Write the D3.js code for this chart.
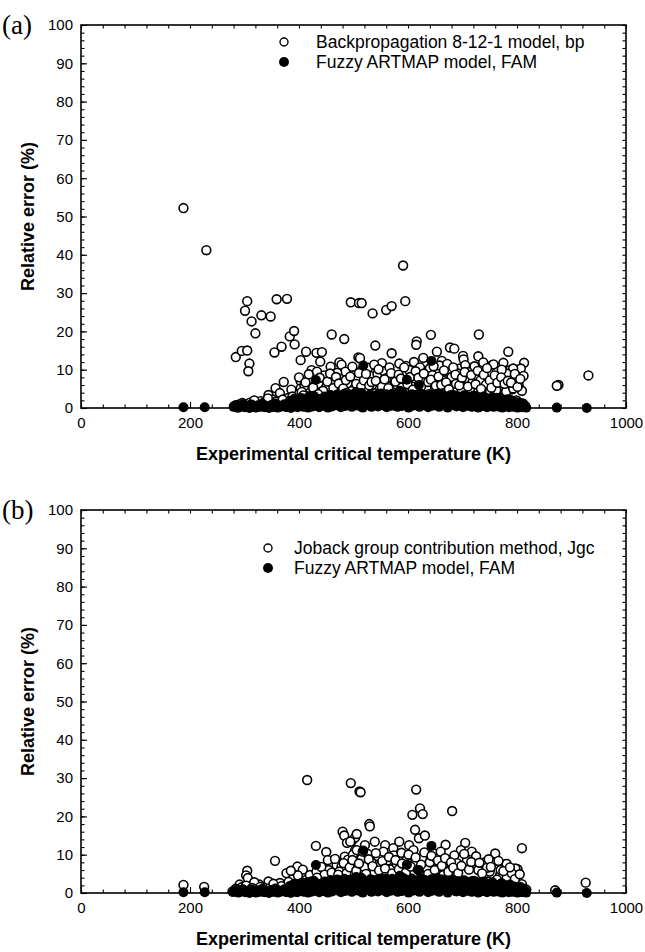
<!DOCTYPE html>
<html><head><meta charset="utf-8">
<script src="https://cdn.jsdelivr.net/npm/d3@7"></script>
<style>body{margin:0;background:#fff}</style>
</head><body>
<svg id="c" width="645" height="952"></svg>
<script>
// ---------------- data ----------------
const xTickLabels = [0, 200, 400, 600, 800, 1000];
const yTickLabels = [0, 10, 20, 30, 40, 50, 60, 70, 80, 90, 100];
const xMinorTicks = d3.range(0, 1001, 40);
const yMinorTicks = d3.range(0, 101, 2);

const seriesNames = {
  bp: "Backpropagation 8-12-1 model, bp",
  jgc: "Joback group contribution method, Jgc",
  fam: "Fuzzy ARTMAP model, FAM"
};

// Fuzzy ARTMAP model (shared by both panels): [Tc (K), relative error (%)]
const famPoints = [
  [188,0.2],[227,0.2],[431,7.3],[518,11.1],[643,12.3],[598,7.4],[620,6.0],[873,0.1],[928,0.0],
  [470,3.5],[505,4.2],[540,2.8],[560,3.6],[585,4.5],[610,3.0],[655,3.8],[690,2.5],[720,3.2],[760,2.0],
  [280,0.3],[285,0.8],[289,0.1],[293,0.5],[297,1.0],[301,0.2],[305,0.6],[309,0.0],[313,0.9],[317,0.4],
  [321,0.1],[325,0.7],[329,0.3],[333,1.1],[337,0.2],[341,0.5],[345,0.0],[349,0.8],[353,0.3],[357,1.2],
  [361,0.1],[365,0.6],[369,0.4],[373,1.0],[377,0.2],[381,0.7],[385,0.0],[389,1.3],[393,0.5],[397,0.2],
  [401,0.9],[405,1.6],[409,0.3],[413,0.7],[417,0.1],[421,1.2],[425,0.4],[429,2.0],[433,0.8],[437,0.2],
  [441,1.5],[445,0.6],[449,2.3],[453,0.1],[457,1.0],[461,0.4],[465,1.8],[469,0.7],[473,2.6],[477,0.2],
  [481,1.3],[485,0.5],[489,2.1],[493,0.9],[497,0.3],[501,1.6],[505,2.8],[509,0.6],[513,1.2],[517,0.1],
  [521,2.2],[525,0.8],[529,1.5],[533,0.3],[537,2.5],[541,1.0],[545,0.4],[549,1.9],[553,0.7],[557,2.9],
  [561,0.2],[565,1.4],[569,0.6],[573,2.3],[577,1.1],[581,0.3],[585,1.7],[589,0.5],[593,2.6],[597,0.9],
  [601,0.1],[605,1.8],[609,0.6],[613,2.4],[617,1.2],[621,0.3],[625,1.6],[629,0.8],[633,2.1],[637,0.2],
  [641,1.4],[645,0.6],[649,2.7],[653,1.0],[657,0.3],[661,1.9],[665,0.7],[669,1.3],[673,0.1],[677,2.2],
  [681,0.8],[685,1.5],[689,0.4],[693,2.0],[697,0.9],[701,0.2],[705,1.6],[709,0.6],[713,1.2],[717,0.3],
  [721,1.8],[725,0.7],[729,0.1],[733,1.4],[737,0.5],[741,1.0],[745,0.2],[749,1.5],[753,0.6],[757,0.3],
  [761,1.1],[765,0.4],[769,0.8],[773,0.1],[777,1.2],[781,0.5],[785,0.2],[789,0.9],[793,0.3],[797,0.6],
  [801,0.1],[805,0.7],[809,0.2],[813,0.4],[817,0.1],
  [383,1.8],[391,2.4],[398,1.6],[404,2.6],[411,1.9],[418,2.9],[423,2.1],[427,3.2],[435,2.4],[440,1.7],
  [447,3.0],[451,2.0],[458,3.4],[463,2.5],[467,1.6],[475,3.1],[479,2.3],[483,3.7],[487,1.5],[491,2.9],
  [495,3.5],[499,2.2],[503,1.4],[507,3.3],[511,2.6],[515,3.9],[519,1.8],[523,3.0],[527,2.4],[531,3.6],
  [535,1.6],[539,2.9],[543,3.4],[547,2.1],[551,3.8],[555,1.7],[559,2.6],[563,3.3],[567,2.0],[571,3.7],
  [575,2.5],[579,1.6],[583,3.1],[587,2.2],[591,3.9],[595,1.5],[599,3.0],[603,2.4],[607,3.6],[611,1.8],
  [615,3.2],[619,2.5],[623,3.8],[627,2.1],[631,3.4],[635,1.6],[639,2.9],[643,3.6],[647,2.0],[651,3.3],
  [655,1.7],[659,2.8],[663,3.5],[667,2.2],[671,3.0],[675,1.6],[679,2.6],[683,3.4],[687,2.1],[691,3.1],
  [695,1.5],[699,2.7],[703,3.3],[707,2.0],[711,2.9],[715,1.6],[719,2.4],[723,3.1],[727,1.8],[731,2.6],
  [735,2.0],[739,3.0],[743,1.5],[747,2.4],[751,1.9],[755,2.8],[759,1.4],[763,2.1],[767,1.6],[771,2.5],
  [775,1.3],[779,2.0],[783,1.5],[787,2.2],[791,1.2],[795,1.7],[799,1.0],[803,1.5],[807,0.9],[811,1.2],[815,0.6]
];

// Backpropagation 8-12-1 model (panel a)
const bpPoints = [
  [188,52.2],[230,41.2],[305,27.9],[301,25.4],[313,22.6],[320,19.5],[331,24.2],[348,23.9],[359,28.4],[378,28.5],
  [284,13.3],[295,14.9],[305,15.0],[309,11.6],[307,9.6],[355,14.5],[368,16.0],[383,18.7],[391,20.1],[392,16.6],
  [403,12.5],[413,14.7],[423,9.9],[432,14.4],[442,14.6],[439,12.1],[460,19.2],[483,18.0],[458,10.8],[474,11.9],
  [478,11.3],[480,8.8],[495,27.6],[510,27.4],[509,13.2],[372,6.8],[357,5.2],[344,3.4],[310,1.4],[403,7.0],
  [403,5.1],[591,37.2],[515,27.4],[535,24.7],[560,25.6],[570,26.6],[595,27.9],[642,19.1],[616,17.4],[615,16.5],
  [730,19.2],[540,16.3],[570,14.3],[677,15.8],[685,15.5],[653,14.7],[701,13.6],[702,12.7],[729,13.5],[784,14.7],
  [628,13.1],[754,11.2],[757,11.4],[775,11.8],[813,11.8],[807,10.3],[812,8.4],[787,9.9],[786,8.2],[791,4.9],
  [775,4.9],[762,4.6],[876,6.0],[873,5.8],[931,8.5],[512,13.0],[552,11.7],[596,11.0],[662,12.3],[793,10.3],
  [781,9.0],[591,9.0],[616,8.7],[640,10.3],[653,9.5],[674,9.5],[695,10.3],[708,7.7],[726,8.1],[503,8.6],
  [524,7.3],[536,6.0],[561,6.0],[573,4.7],[625,3.0],[677,2.6],[714,5.1],[735,4.7],[762,4.7],[780,4.3],
  [793,5.1],[762,2.6],
  [485,9.5],[490,6.5],[498,10.8],[502,5.2],[507,7.8],[515,9.8],[520,4.6],[527,10.5],[531,8.4],[538,11.3],
  [544,8.9],[548,4.9],[556,9.6],[562,7.9],[566,10.6],[575,8.3],[580,6.1],[584,11.6],[588,5.3],[602,9.9],
  [606,5.7],[611,12.0],[622,10.6],[630,7.6],[634,5.2],[645,8.6],[648,6.4],[658,11.1],[664,7.2],[668,5.0],
  [672,11.5],[680,8.1],[688,6.3],[692,9.0],[698,4.8],[705,11.2],[712,9.4],[718,6.6],[722,10.9],[733,7.2],
  [738,11.9],[743,6.1],[748,9.3],[768,7.4],[772,10.0],[798,7.0],[803,6.1],[809,4.5],
  [395,3.5],[400,8.0],[410,5.8],[415,3.1],[420,7.6],[427,4.6],[436,6.3],[440,3.3],[446,8.5],[450,5.5],
  [455,2.9],[462,7.0],[466,4.2],[470,9.2],[475,5.9],[488,3.8],[380,2.6],[365,3.9],[352,2.2],[330,1.8],
  [320,1.1],[290,0.9],[340,0.8],[386,4.8],
  [405,4.2],[412,6.7],[418,8.8],[426,5.3],[433,9.5],[438,7.9],[444,4.5],[452,6.9],[457,9.0],[463,5.2],
  [468,8.1],[473,6.4],[481,5.1],[486,7.3],[494,8.2],[497,4.4],[505,6.3],[510,9.1],[514,5.6],[519,7.2],
  [523,8.9],[529,5.9],[533,6.8],[541,7.1],[546,10.1],[552,5.5],[557,7.5],[564,5.2],[569,9.1],[577,6.9],
  [583,8.7],[587,7.7],[593,10.6],[599,6.2],[604,8.1],[609,4.8],[614,9.6],[619,7.9],[624,5.6],[629,9.0],
  [637,6.8],[642,7.4],[647,10.9],[651,5.8],[656,8.2],[661,6.0],[666,9.8],[670,6.7],[675,4.9],[683,10.6],
  [687,8.7],[694,5.9],[699,7.9],[704,9.4],[710,5.6],[716,8.6],[724,6.2],[728,9.7],[734,5.0],[739,8.7],
  [745,10.4],[750,7.2],[753,5.3],[759,8.5],[764,6.6],[771,8.0],[777,6.3],[783,7.1],[789,6.6],[796,8.9],
  [801,5.5],[806,7.6],
  [282,0.6],[287,0.2],[296,1.3],[300,0.4],[312,0.9],[318,2.0],[324,0.5],[335,1.4],[343,2.5],[350,0.3],
  [358,1.7],[363,0.9],[370,2.2],[375,0.6],[383,1.5],[388,3.0],[394,0.8],[398,2.1],[404,0.5],[408,3.3],
  [414,1.4],[419,2.6],[424,0.7],[430,1.9],[435,3.6],[443,1.1],[448,2.5],[454,0.4],[459,3.2],[464,1.6],
  [471,2.9],[476,0.9],[482,2.2],[487,3.9],[492,1.5],[499,2.7],[504,0.8],[510,3.5],[516,1.9],[522,3.0],
  [528,1.2],[534,2.4],[539,3.8],[546,0.9],[551,2.8],[558,1.6],[563,3.3],[568,2.1],[574,0.7],[579,3.1],
  [586,2.0],[590,3.7],[596,1.3],[603,2.9],[608,0.8],[614,3.4],[619,1.7],[626,2.6],[632,1.1],[638,3.6],
  [643,2.2],[650,0.9],[656,3.0],[661,1.8],[667,2.7],[674,1.0],[679,3.4],[684,2.0],[691,1.2],[696,2.8],
  [703,0.6],[708,2.3],[715,1.5],[720,3.1],[726,0.9],[731,2.1],[736,1.3],[742,2.7],[747,0.5],[752,1.8],
  [758,1.0],[763,2.4],[770,0.7],[776,1.6],[782,2.2],[788,0.6],[794,1.3],[799,2.0],[804,0.4],[810,1.1],[815,0.3]
];

// Joback group contribution method (panel b)
const jgcPoints = [
  [415,29.5],[495,28.7],[511,26.5],[513,26.3],[615,27.0],[608,20.4],[622,22.1],[627,20.6],[681,21.4],[480,16.0],
  [483,15.0],[488,13.1],[431,12.3],[450,10.7],[356,8.4],[397,6.9],[407,6.1],[377,5.2],[305,5.8],[303,4.6],
  [306,3.9],[291,2.2],[327,2.2],[344,3.0],[357,2.0],[188,2.1],[226,1.6],[529,18.0],[530,17.4],[613,16.5],
  [620,14.3],[631,15.0],[669,12.6],[705,13.1],[717,10.8],[760,10.3],[779,7.5],[809,11.7],[801,6.2],[809,2.3],
  [926,2.7],[870,0.7],[497,13.6],[503,14.5],[506,15.4],[453,8.6],
  [697,11.2],[700,9.5],[696,8.7],[719,7.3],[729,6.0],[781,7.6],[797,6.4],[750,5.6],[769,4.7],[784,4.7],
  [781,3.9],[763,3.5],[494,13.4],[503,11.2],[521,12.5],[539,13.4],[558,12.5],[573,11.7],[584,13.4],[602,12.5],
  [610,11.2],[591,9.5],[567,3.8],[585,4.0],[606,3.8],[622,5.6],[634,6.5],[656,6.7],[665,4.7],[677,6.0],
  [390,3.8],[414,3.5],[420,4.7],[438,4.3],[454,6.0],[457,3.8],[469,7.3],[478,6.9],[484,9.5],[490,8.7],
  [499,10.0],[506,11.2],
  [515,9.0],[520,6.8],[526,10.2],[533,8.0],[538,5.5],[545,9.6],[550,7.2],[555,10.8],[562,8.5],[568,6.2],
  [574,9.8],[579,7.6],[588,10.5],[593,6.6],[598,8.8],[612,7.5],[626,9.2],[640,8.0],[646,10.4],[652,9.0],
  [660,10.8],[672,8.6],[685,9.8],[690,7.8],[708,8.4],[725,9.6],[740,8.0],[745,6.6],[755,7.9],[770,6.0],
  [790,5.2],[796,3.6],
  [432,5.6],[441,6.8],[447,4.8],[460,5.3],[466,8.9],[474,5.6],[482,7.8],[487,5.1],[493,6.7],[498,8.6],
  [505,5.8],[510,7.7],[517,10.8],[523,5.0],[528,8.8],[535,7.0],[541,10.4],[547,5.9],[553,8.3],[558,6.4],
  [565,9.4],[571,5.1],[577,8.6],[583,6.2],[589,7.7],[596,5.3],[601,10.0],[605,6.9],[614,9.3],[618,6.1],
  [624,7.4],[630,10.6],[637,5.0],[643,9.7],[649,6.0],[655,8.5],[662,7.1],[668,9.1],[674,5.5],[679,8.0],
  [683,6.6],[692,5.2],[698,7.1],[703,10.2],[712,6.1],[716,8.1],[731,7.9],[736,5.1],[748,8.8],[752,6.8],
  [766,8.4],[775,5.7],[787,6.7],[805,4.9],
  [295,1.5],[310,1.0],[318,2.8],[335,1.5],[350,1.2],[365,2.6],[372,1.0],[384,2.4],[402,1.8],[411,2.6],
  [425,1.4],[433,4.0],[445,2.5],[462,2.0],[472,4.8],[398,4.6],[385,5.8],
  [278,0.4],[284,1.1],[289,0.3],[298,0.8],[303,1.9],[308,0.5],[314,1.3],[322,0.6],[329,1.6],[338,0.4],
  [346,1.2],[353,2.4],[360,0.7],[368,1.8],[376,0.5],[381,2.9],[389,1.1],[395,0.4],[400,2.2],[406,1.0],
  [413,0.6],[418,2.0],[423,3.0],[428,0.8],[436,1.7],[441,0.5],[448,2.8],[452,1.3],[458,0.6],[465,3.2],
  [469,1.4],[476,2.3],[480,0.7],[486,3.5],[492,1.8],[497,0.6],[502,2.7],[508,1.2],[513,3.9],[518,0.5],
  [524,2.2],[530,1.4],[536,3.3],[541,0.8],[547,2.6],[553,1.5],[559,3.6],[565,0.9],[571,2.4],[576,1.2],
  [582,3.0],[587,0.6],[592,2.1],[597,3.5],[603,1.3],[609,2.7],[616,0.8],[623,3.2],[628,1.6],[635,2.5],
  [641,0.7],[647,3.3],[653,1.8],[659,2.6],[664,0.9],[670,3.1],[675,1.7],[681,2.4],[687,0.6],[694,2.9],
  [699,1.4],[706,2.2],[711,0.8],[716,3.0],[723,1.6],[729,2.5],[734,0.9],[740,1.9],[746,3.0],[750,1.1],
  [756,2.2],[761,0.6],[767,1.7],[772,2.5],[778,0.9],[784,1.8],[790,0.5],[795,1.4],[801,0.8],[806,1.6],
  [812,0.4],[817,0.9]
];

// ---------------- layout ----------------
const svg = d3.select("#c");
const L = 81, R = 626;
const panels = [
  {tag:"(a)", top:25, bottom:408, open:bpPoints, openName:seriesNames.bp, legX:284, legTextX:316, legY:[42,62]},
  {tag:"(b)", top:510, bottom:893, open:jgcPoints, openName:seriesNames.jgc, legX:268, legTextX:294, legY:[548,568]}
];
const FONT = "Arial, 'Liberation Sans', Helvetica, sans-serif";

panels.forEach(p => {
  const x = d3.scaleLinear().domain([0, 1000]).range([L, R]);
  const y = d3.scaleLinear().domain([0, 100]).range([p.bottom, p.top]);
  const g = svg.append("g");

  const mk = (axis, vals, size, labels) => axis.tickValues(vals).tickSizeInner(-size).tickSizeOuter(0)
      .tickFormat(labels ? d3.format("d") : "");
  const addAxis = (gen, tr) => {
    const a = g.append("g").attr("transform", tr).call(gen);
    a.select(".domain").remove();
    a.selectAll("line").attr("stroke", "#000").attr("stroke-width", 1.1);
    a.selectAll("text").attr("font-family", FONT).attr("font-size", 15).attr("fill", "#000");
    return a;
  };
  addAxis(mk(d3.axisBottom(x), xMinorTicks, 3.5, false), `translate(0,${p.bottom})`);
  addAxis(mk(d3.axisBottom(x), xTickLabels, 6, true).tickPadding(9), `translate(0,${p.bottom})`);
  addAxis(mk(d3.axisTop(x), xMinorTicks, 3.5, false), `translate(0,${p.top})`);
  addAxis(mk(d3.axisLeft(y), yMinorTicks, 3.5, false), `translate(${L},0)`);
  addAxis(mk(d3.axisLeft(y), yTickLabels, 6, true).tickPadding(8), `translate(${L},0)`);
  addAxis(mk(d3.axisRight(y), yMinorTicks, 3.5, false), `translate(${R},0)`);

  g.append("rect").attr("x", L).attr("y", p.top).attr("width", R - L).attr("height", p.bottom - p.top)
    .attr("fill", "none").attr("stroke", "#000").attr("stroke-width", 1.6);

  g.append("g").selectAll("circle").data(p.open).join("circle")
    .attr("cx", d => x(d[0])).attr("cy", d => y(d[1])).attr("r", 4.4)
    .attr("fill", "#fff").attr("stroke", "#000").attr("stroke-width", 1.6);
  g.append("g").selectAll("circle").data(famPoints).join("circle")
    .attr("cx", d => x(d[0])).attr("cy", d => y(d[1])).attr("r", 5)
    .attr("fill", "#000");

  g.append("circle").attr("cx", p.legX).attr("cy", p.legY[0]).attr("r", 4)
    .attr("fill", "#fff").attr("stroke", "#000").attr("stroke-width", 1.4);
  g.append("circle").attr("cx", p.legX).attr("cy", p.legY[1]).attr("r", 5).attr("fill", "#000");
  g.append("text").attr("x", p.legTextX).attr("y", p.legY[0] + 6).text(p.openName)
    .attr("font-family", FONT).attr("font-size", 17.5);
  g.append("text").attr("x", p.legTextX).attr("y", p.legY[1] + 6).text(seriesNames.fam)
    .attr("font-family", FONT).attr("font-size", 17.5);

  g.append("text").attr("x", (L + R) / 2).attr("y", p.bottom + 52).attr("text-anchor", "middle")
    .attr("font-family", FONT).attr("font-weight", "bold").attr("font-size", 18)
    .text("Experimental critical temperature (K)");
  g.append("text").attr("transform", `translate(34,${(p.top + p.bottom) / 2}) rotate(-90)`)
    .attr("text-anchor", "middle").attr("font-family", FONT).attr("font-weight", "bold").attr("font-size", 18)
    .text("Relative error (%)");
  g.append("text").attr("x", 2).attr("y", p.top + 9).text(p.tag)
    .attr("font-family", "'Liberation Serif', 'DejaVu Serif', serif").attr("font-size", 27);
});
</script>
</body></html>
